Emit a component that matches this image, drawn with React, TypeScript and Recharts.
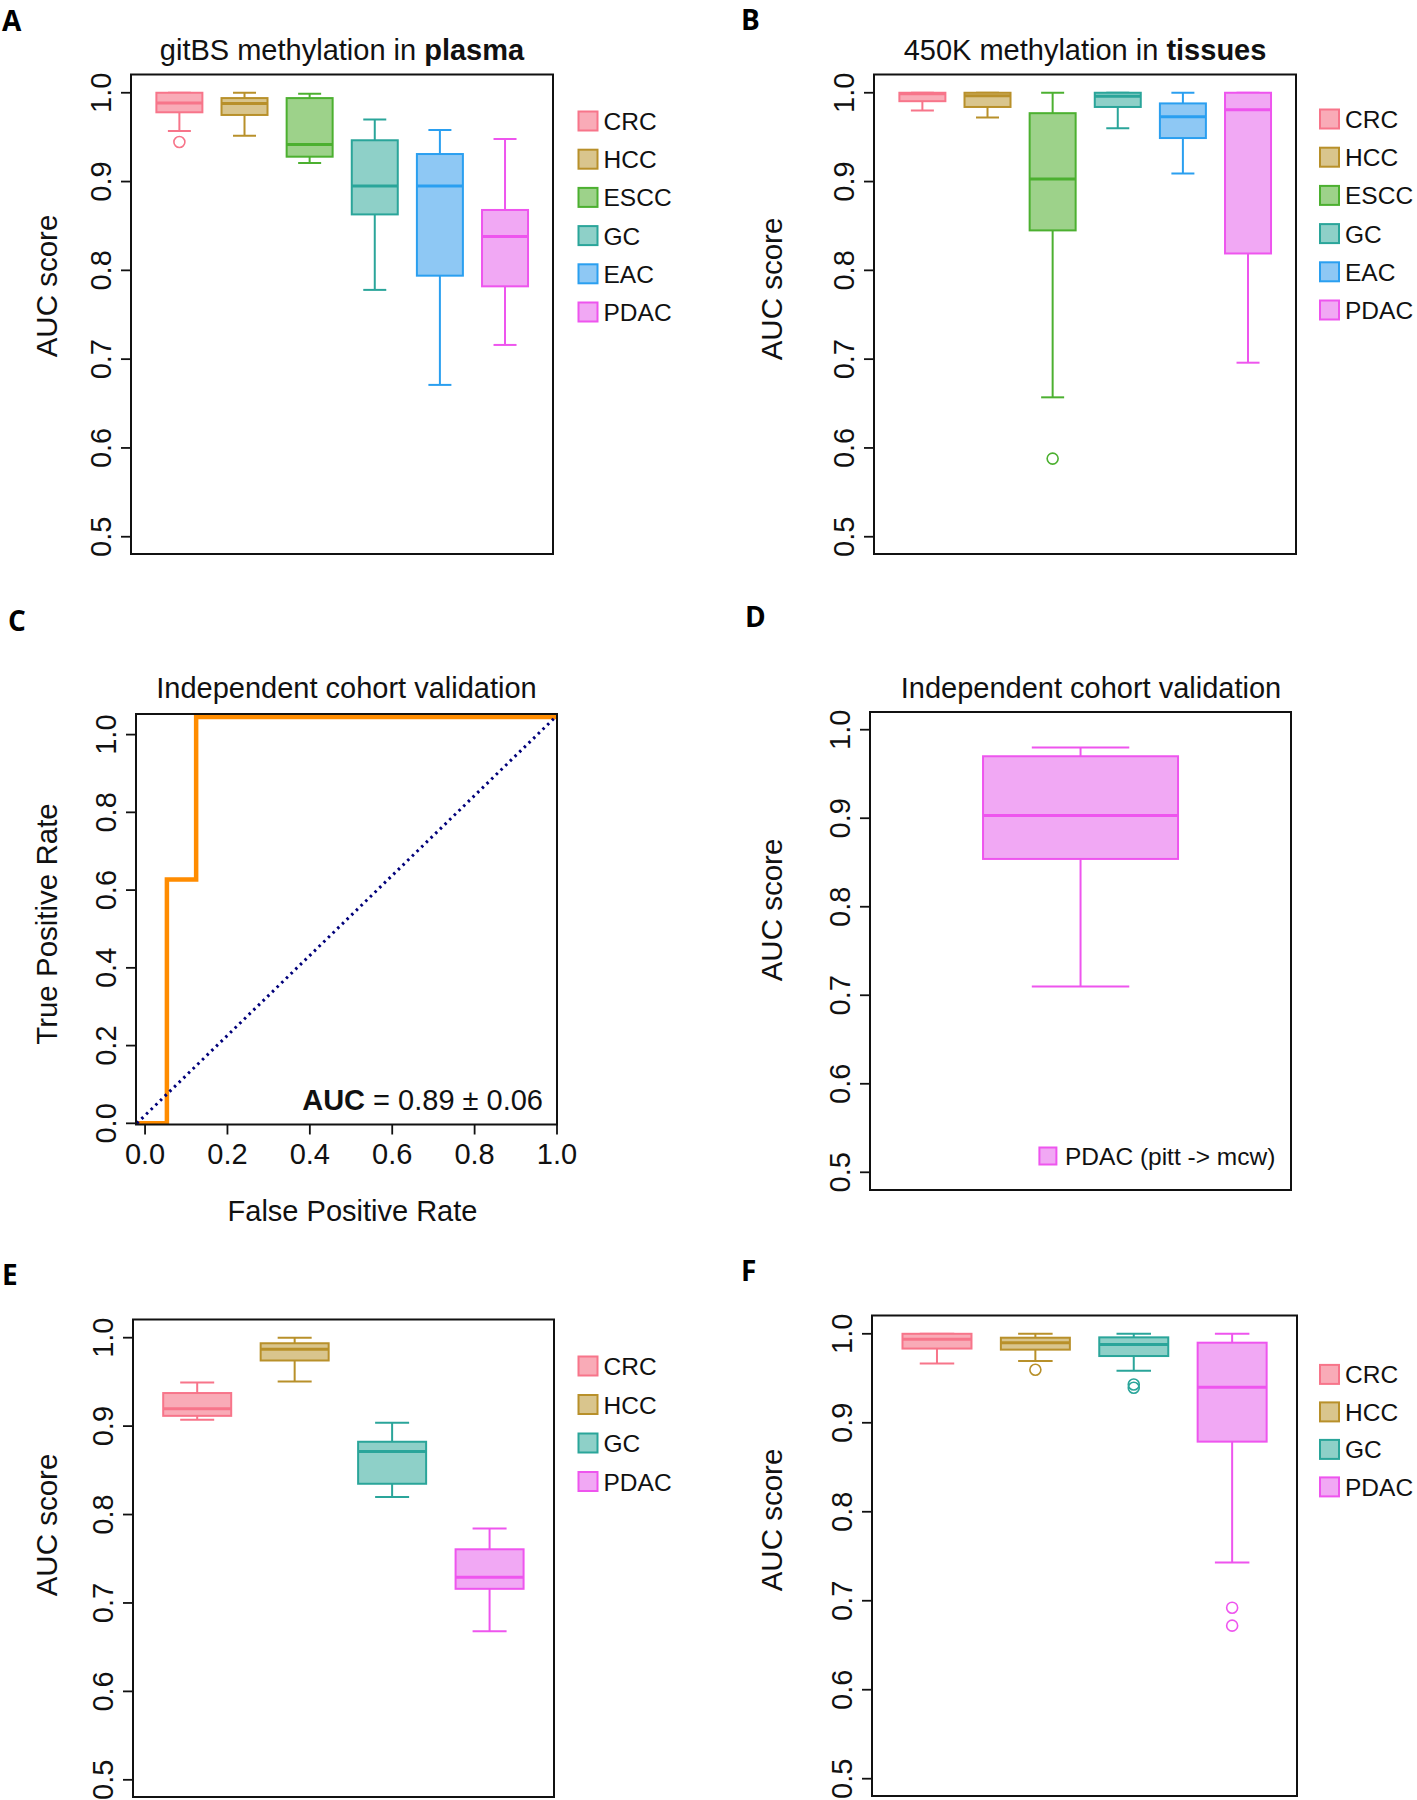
import React from "react";
import { Bar, BarChart, Line, LineChart, XAxis, YAxis } from "recharts";

const FONT = '"Liberation Sans", Arial, Helvetica, sans-serif';
const INK = "#111";

const COLORS: Record<string, { stroke: string; fill: string }> = {
  CRC: { stroke: "#f7758a", fill: "#f9abb7" },
  HCC: { stroke: "#b8902a", fill: "#d9c58d" },
  ESCC: { stroke: "#4cb030", fill: "#9dd28a" },
  GC: { stroke: "#2aa59a", fill: "#8ed0c8" },
  EAC: { stroke: "#2a9ff0", fill: "#8ec8f4" },
  PDAC: { stroke: "#ee55ee", fill: "#f1a8f4" },
};

const AUC_TICKS = [0.5, 0.6, 0.7, 0.8, 0.9, 1.0];
const RATE_TICKS = [0, 0.2, 0.4, 0.6, 0.8, 1.0];

// A: gitBS methylation in plasma
const plasmaGroups = ["CRC", "HCC", "ESCC", "GC", "EAC", "PDAC"];
const plasmaLower = [0.957, 0.9515, 0.921, 0.778, 0.671, 0.716];
const plasmaQ1 = [0.978, 0.975, 0.928, 0.863, 0.794, 0.782];
const plasmaMedian = [0.9885, 0.988, 0.9416, 0.895, 0.895, 0.838];
const plasmaQ3 = [1.0, 0.994, 0.994, 0.9465, 0.931, 0.868];
const plasmaUpper = [1.0, 1.0, 0.999, 0.97, 0.958, 0.948];
const plasmaOutliers = [[0.9445], [], [], [], [], []];

// B: 450K methylation in tissues
const tissueGroups = ["CRC", "HCC", "ESCC", "GC", "EAC", "PDAC"];
const tissueLower = [0.98, 0.972, 0.657, 0.96, 0.909, 0.696];
const tissueQ1 = [0.9905, 0.984, 0.845, 0.984, 0.949, 0.819];
const tissueMedian = [0.999, 0.9967, 0.903, 0.996, 0.973, 0.981];
const tissueQ3 = [1.0, 1.0, 0.977, 1.0, 0.988, 1.0];
const tissueUpper = [1.0, 1.0, 1.0, 1.0, 1.0, 1.0];
const tissueOutliers = [[], [], [0.588], [], [], []];

// C: ROC, independent cohort
const rocFpr = [-0.02, 0.053, 0.053, 0.124, 0.124, 1.0];
const rocTpr = [0, 0, 0.627, 0.627, 1.045, 1.045];
const chanceFpr = [-0.02, 1.0];
const chanceTpr = [0, 1.049];

// D: independent cohort AUC
const cohortGroups = ["PDAC"];
const cohortLower = [0.71];
const cohortQ1 = [0.854];
const cohortMedian = [0.903];
const cohortQ3 = [0.97];
const cohortUpper = [0.98];
const cohortOutliers = [[]];

// E
const eGroups = ["CRC", "HCC", "GC", "PDAC"];
const eLower = [0.9073, 0.9505, 0.8197, 0.668];
const eQ1 = [0.9116, 0.9742, 0.8348, 0.716];
const eMedian = [0.9196, 0.987, 0.8712, 0.729];
const eQ3 = [0.9374, 0.9937, 0.8823, 0.7607];
const eUpper = [0.9493, 1.0, 0.9037, 0.7841];
const eOutliers = [[], [], [], []];

// F
const fGroups = ["CRC", "HCC", "GC", "PDAC"];
const fLower = [0.9667, 0.9695, 0.9584, 0.7429];
const fQ1 = [0.9834, 0.9822, 0.975, 0.8788];
const fMedian = [0.994, 0.99, 0.988, 0.9398];
const fQ3 = [1.0, 0.9956, 0.996, 0.99];
const fUpper = [1.0, 1.0, 1.0, 1.0];
const fOutliers = [[], [0.9596], [0.943, 0.9394], [0.6922, 0.672]];

type Row = {
  name: string;
  range: [number, number];
  lower: number;
  q1: number;
  median: number;
  q3: number;
  upper: number;
  outliers: number[];
};

function rowsOf(
  groups: string[],
  lower: number[],
  q1: number[],
  median: number[],
  q3: number[],
  upper: number[],
  outliers: number[][]
): Row[] {
  return groups.map((name, i) => ({
    name,
    range: [lower[i], upper[i]],
    lower: lower[i],
    q1: q1[i],
    median: median[i],
    q3: q3[i],
    upper: upper[i],
    outliers: outliers[i],
  }));
}

const plasmaRows = rowsOf(plasmaGroups, plasmaLower, plasmaQ1, plasmaMedian, plasmaQ3, plasmaUpper, plasmaOutliers);
const tissueRows = rowsOf(tissueGroups, tissueLower, tissueQ1, tissueMedian, tissueQ3, tissueUpper, tissueOutliers);
const cohortRows = rowsOf(cohortGroups, cohortLower, cohortQ1, cohortMedian, cohortQ3, cohortUpper, cohortOutliers);
const eRows = rowsOf(eGroups, eLower, eQ1, eMedian, eQ3, eUpper, eOutliers);
const fRows = rowsOf(fGroups, fLower, fQ1, fMedian, fQ3, fUpper, fOutliers);

const rocData = rocFpr.map((x, i) => ({ x, y: rocTpr[i] }));
const chanceData = chanceFpr.map((x, i) => ({ x, y: chanceTpr[i] }));

type Frame = { l: number; r: number; t: number; b: number };

// bar spans lower..upper whisker; the rest is placed on the same linear mapping
function BoxShape(props: any) {
  const { x, y, width, height, payload } = props;
  if (!payload || width == null || height == null) return null;
  const top = Math.min(y, y + height);
  const h = Math.abs(height);
  const { lower, upper, q1, median, q3, outliers, name } = payload as Row;
  const span = upper - lower || 1;
  const py = (v: number) => top + ((upper - v) / span) * h;
  const c = COLORS[name];
  const cx = x + width / 2;
  const cap = width / 4;
  return (
    <g>
      <line x1={cx} x2={cx} y1={py(upper)} y2={py(q3)} stroke={c.stroke} strokeWidth={2} />
      <line x1={cx} x2={cx} y1={py(q1)} y2={py(lower)} stroke={c.stroke} strokeWidth={2} />
      <line x1={cx - cap} x2={cx + cap} y1={py(upper)} y2={py(upper)} stroke={c.stroke} strokeWidth={2} />
      <line x1={cx - cap} x2={cx + cap} y1={py(lower)} y2={py(lower)} stroke={c.stroke} strokeWidth={2} />
      <rect x={x} y={py(q3)} width={width} height={py(q1) - py(q3)} fill={c.fill} stroke={c.stroke} strokeWidth={2} />
      <line x1={x} x2={x + width} y1={py(median)} y2={py(median)} stroke={c.stroke} strokeWidth={3} />
      {outliers.map((o, i) => (
        <circle key={i} cx={cx} cy={py(o)} r={5.5} fill="none" stroke={c.stroke} strokeWidth={1.6} />
      ))}
    </g>
  );
}

function RotTick(props: any) {
  const { x, y, payload } = props;
  const bx = x - 8;
  return (
    <text x={bx} y={y} transform={`rotate(-90 ${bx} ${y})`} textAnchor="middle" fontFamily={FONT} fontSize={29} fill={INK}>
      {Number(payload.value).toFixed(1)}
    </text>
  );
}

function FlatTick(props: any) {
  const { x, y, payload } = props;
  return (
    <text x={x} y={y + 27} textAnchor="middle" fontFamily={FONT} fontSize={29} fill={INK}>
      {Number(payload.value).toFixed(1)}
    </text>
  );
}

const YW = 130;
const RM = 50;

function BoxPanel({ frame, rows, gap }: { frame: Frame; rows: Row[]; gap: string }) {
  const fw = frame.r - frame.l;
  const fh = frame.b - frame.t;
  const pad = 0.037 * fw;
  return (
    <div style={{ position: "absolute", left: frame.l - YW, top: frame.t - 10 }}>
      <BarChart
        width={YW + fw + 10}
        height={fh + 20}
        data={rows}
        margin={{ top: 10, right: 10, bottom: 10, left: 0 }}
        barCategoryGap={gap}
      >
        <XAxis dataKey="name" type="category" hide padding={{ left: pad, right: pad }} />
        <YAxis
          width={YW}
          type="number"
          domain={[0.48, 1.02]}
          ticks={AUC_TICKS}
          interval={0}
          allowDataOverflow
          axisLine={false}
          tickSize={10}
          tickLine={{ stroke: INK, strokeWidth: 1.8 }}
          tick={(p: any) => <RotTick {...p} />}
        />
        <Bar dataKey="range" isAnimationActive={false} shape={(p: any) => <BoxShape {...p} />} />
      </BarChart>
    </div>
  );
}

function RocPanel({ frame }: { frame: Frame }) {
  const fw = frame.r - frame.l;
  const fh = frame.b - frame.t;
  return (
    <div style={{ position: "absolute", left: frame.l - YW, top: frame.t - 10 }}>
      <LineChart width={YW + fw + RM} height={fh + 10 + 110} margin={{ top: 10, right: RM, bottom: 0, left: 0 }}>
        <XAxis
          type="number"
          dataKey="x"
          domain={[-0.022, 1.0]}
          ticks={RATE_TICKS}
          interval={0}
          allowDataOverflow
          height={110}
          axisLine={false}
          tickSize={10}
          tickLine={{ stroke: INK, strokeWidth: 1.8 }}
          tick={(p: any) => <FlatTick {...p} />}
        />
        <YAxis
          width={YW}
          type="number"
          domain={[-0.003, 1.053]}
          ticks={RATE_TICKS}
          interval={0}
          allowDataOverflow
          axisLine={false}
          tickSize={10}
          tickLine={{ stroke: INK, strokeWidth: 1.8 }}
          tick={(p: any) => <RotTick {...p} />}
        />
        <Line data={rocData} dataKey="y" type="linear" stroke="#ff8c00" strokeWidth={4.5} dot={false} isAnimationActive={false} />
        <Line
          data={chanceData}
          dataKey="y"
          type="linear"
          stroke="#00007a"
          strokeWidth={3}
          strokeDasharray="2.5 4"
          dot={false}
          isAnimationActive={false}
        />
      </LineChart>
    </div>
  );
}

function VLabel({ cx, cy, text }: { cx: number; cy: number; text: string }) {
  const bx = cx + 10.5;
  return (
    <text x={bx} y={cy} transform={`rotate(-90 ${bx} ${cy})`} textAnchor="middle" fontFamily={FONT} fontSize={29.5} fill={INK}>
      {text}
    </text>
  );
}

function LegendBlock({ groups, x, y0, step, size = 19 }: { groups: string[]; x: number; y0: number; step: number; size?: number }) {
  return (
    <g>
      {groups.map((g, i) => {
        const cy = y0 + i * step;
        return (
          <g key={g}>
            <rect x={x} y={cy - size / 2} width={size} height={size} fill={COLORS[g].fill} stroke={COLORS[g].stroke} strokeWidth={2} />
            <text x={x + size + 6} y={cy + 9} fontFamily={FONT} fontSize={24.5} fill={INK}>
              {g}
            </text>
          </g>
        );
      })}
    </g>
  );
}

const FA: Frame = { l: 131, r: 553, t: 74.5, b: 554 };
const FB: Frame = { l: 874, r: 1296, t: 74.5, b: 554 };
const FC: Frame = { l: 136, r: 557, t: 714, b: 1124.5 };
const FD: Frame = { l: 870, r: 1291, t: 712, b: 1190 };
const FE: Frame = { l: 133, r: 554, t: 1319.5, b: 1797 };
const FF: Frame = { l: 872, r: 1297, t: 1315.5, b: 1796 };

function Letter({ x, y, ch }: { x: number; y: number; ch: string }) {
  return (
    <text x={x} y={y} fontFamily='"Open Sans", "Liberation Sans", Arial, sans-serif' fontWeight={700} fontSize={28} fill="#000">
      {ch}
    </text>
  );
}

export default function App() {
  const frames = [FA, FB, FC, FD, FE, FF];
  return (
    <div style={{ position: "absolute", left: 0, top: 0, width: 1417, height: 1800, background: "#fff", overflow: "hidden" }}>
      <BoxPanel frame={FA} rows={plasmaRows} gap="15%" />
      <BoxPanel frame={FB} rows={tissueRows} gap="15%" />
      <RocPanel frame={FC} />
      <BoxPanel frame={FD} rows={cohortRows} gap="25%" />
      <BoxPanel frame={FE} rows={eRows} gap="15%" />
      <BoxPanel frame={FF} rows={fRows} gap="15%" />

      <svg width={1417} height={1800} style={{ position: "absolute", left: 0, top: 0, pointerEvents: "none" }}>
        {frames.map((f, i) => (
          <rect key={i} x={f.l} y={f.t} width={f.r - f.l} height={f.b - f.t} fill="none" stroke={INK} strokeWidth={2} />
        ))}

        <Letter x={2} y={31} ch="A" />
        <Letter x={741} y={30} ch="B" />
        <Letter x={8} y={631} ch="C" />
        <Letter x={745} y={627} ch="D" />
        <Letter x={2} y={1285} ch="E" />
        <Letter x={741} y={1281} ch="F" />

        <text x={342} y={60} textAnchor="middle" fontFamily={FONT} fontSize={29} fill={INK}>
          gitBS methylation in <tspan fontWeight="bold">plasma</tspan>
        </text>
        <text x={1085} y={60} textAnchor="middle" fontFamily={FONT} fontSize={29} fill={INK}>
          450K methylation in <tspan fontWeight="bold">tissues</tspan>
        </text>
        <text x={346.5} y={698} textAnchor="middle" fontFamily={FONT} fontSize={29} fill={INK}>
          Independent cohort validation
        </text>
        <text x={1091} y={698} textAnchor="middle" fontFamily={FONT} fontSize={29} fill={INK}>
          Independent cohort validation
        </text>

        <VLabel cx={46} cy={286} text="AUC score" />
        <VLabel cx={771} cy={289} text="AUC score" />
        <VLabel cx={46} cy={924} text="True Positive Rate" />
        <VLabel cx={771} cy={910} text="AUC score" />
        <VLabel cx={46} cy={1525} text="AUC score" />
        <VLabel cx={771} cy={1520} text="AUC score" />

        <text x={352.5} y={1221} textAnchor="middle" fontFamily={FONT} fontSize={29} fill={INK}>
          False Positive Rate
        </text>
        <text x={543} y={1110} textAnchor="end" fontFamily={FONT} fontSize={29} fill={INK}>
          <tspan fontWeight="bold">AUC</tspan> = 0.89 ± 0.06
        </text>

        <LegendBlock groups={plasmaGroups} x={578.5} y0={121} step={38.2} />
        <LegendBlock groups={tissueGroups} x={1320} y0={119} step={38.2} />
        <LegendBlock groups={eGroups} x={578.5} y0={1366} step={38.5} />
        <LegendBlock groups={fGroups} x={1320} y0={1374.4} step={37.5} />
        <g>
          <rect x={1039.4} y={1147.5} width={17} height={17} fill={COLORS.PDAC.fill} stroke={COLORS.PDAC.stroke} strokeWidth={2} />
          <text x={1065} y={1165} fontFamily={FONT} fontSize={24.5} fill={INK}>
            PDAC (pitt -&gt; mcw)
          </text>
        </g>
      </svg>
    </div>
  );
}
